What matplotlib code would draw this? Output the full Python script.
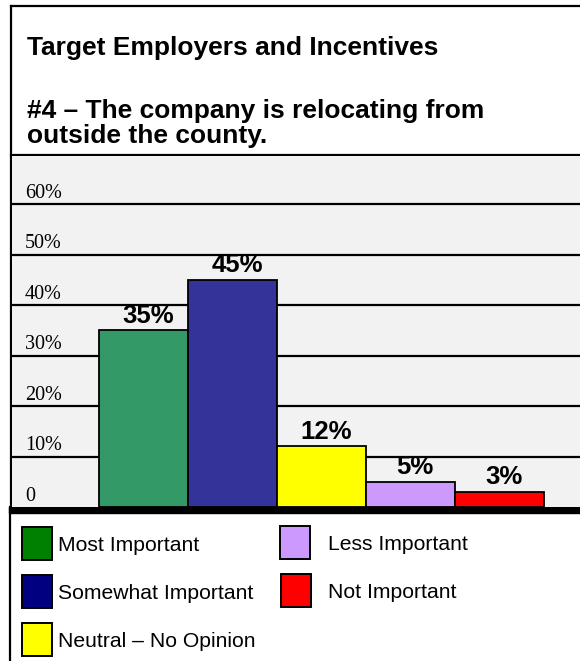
import matplotlib.pyplot as plt
from matplotlib.patches import Rectangle

# survey answers for question #4
categories = ["Most Important", "Somewhat Important", "Neutral – No Opinion",
              "Less Important", "Not Important"]
percents = [35, 45, 12, 5, 3]
bar_colors = ["#339966", "#333399", "#ffff00", "#cc99ff", "#ff0000"]
legend_colors = ["#008000", "#000080", "#ffff00", "#cc99ff", "#ff0000"]
y_ticks = [0, 10, 20, 30, 40, 50, 60]
y_tick_labels = ["0", "10%", "20%", "30%", "40%", "50%", "60%"]

title_lines = ["Target Employers and Incentives",
               "#4 – The company is relocating from",
               "outside the county."]

W, H = 580, 661
fig = plt.figure(figsize=(W / 100, H / 100), dpi=100)
fig.patch.set_facecolor("white")

# background axes in pixel units for the frame, title and legend
bg = fig.add_axes([0, 0, 1, 1])
bg.set_xlim(0, W)
bg.set_ylim(H, 0)
bg.axis("off")

# chart axes
x0, x1, ytop, ybot = 12, 580, 156, 507
ax = fig.add_axes([x0 / W, (H - ybot) / H, (x1 - x0) / W, (ybot - ytop) / H])
ax.set_facecolor("#f2f2f2")
px_per_pct = (ybot - 204) / 60.0
ax.set_ylim(0, (ybot - ytop) / px_per_pct)
bar_px = 89
left = -0.5 - (99 - x0) / bar_px
ax.set_xlim(left, left + (x1 - x0) / bar_px)
for s in ax.spines.values():
    s.set_visible(False)
ax.set_xticks([])
ax.set_yticks([])

for v in y_ticks[1:]:
    ax.axhline(v, color="black", lw=1.6, zorder=1)

xs = list(range(len(percents)))
ax.bar(xs, percents, width=1.0, color=bar_colors, edgecolor="black",
       linewidth=1.3, zorder=2)
for x, v in zip(xs, percents):
    ax.text(x + 0.05, v + 1.5, f"{v}%", ha="center", va="baseline",
            fontsize=18.5, fontweight="bold", family="Liberation Sans",
            zorder=3)

for v, lab in zip(y_ticks, y_tick_labels):
    ax.text(13 / (x1 - x0), v + 1.2, lab, transform=ax.get_yaxis_transform(),
            ha="left", va="baseline", fontsize=14.5, family="Liberation Serif")

# frame lines
bg.plot([11, W], [6, 6], color="black", lw=1.6)
bg.plot([11, 11], [6, 507], color="black", lw=1.6)
bg.plot([9.5, 9.5], [507, H], color="black", lw=1.6)
bg.plot([11, W], [155, 155], color="black", lw=1.6)
bg.add_patch(Rectangle((8.5, 507), W - 8.5, 6, color="black", zorder=5))

# title
title_y = [55, 118, 143]
for t, y in zip(title_lines, title_y):
    bg.text(27, y, t, ha="left", va="baseline", fontsize=19,
            fontweight="bold", family="Liberation Sans")

# legend
sq_x = [22, 22, 22, 280, 281]
sq_y = [527, 575, 623, 526, 574]
txt_x = [58, 58, 58, 328, 328]
for name, c, sx, sy, tx in zip(categories, legend_colors, sq_x, sq_y, txt_x):
    bg.add_patch(Rectangle((sx, sy), 30, 33, facecolor=c, edgecolor="black",
                           lw=1.4))
    bg.text(tx, sy + 16.5 + 7.5, name, ha="left", va="baseline",
            fontsize=15.2, family="Liberation Sans")

fig.savefig("out.png", dpi=100)
